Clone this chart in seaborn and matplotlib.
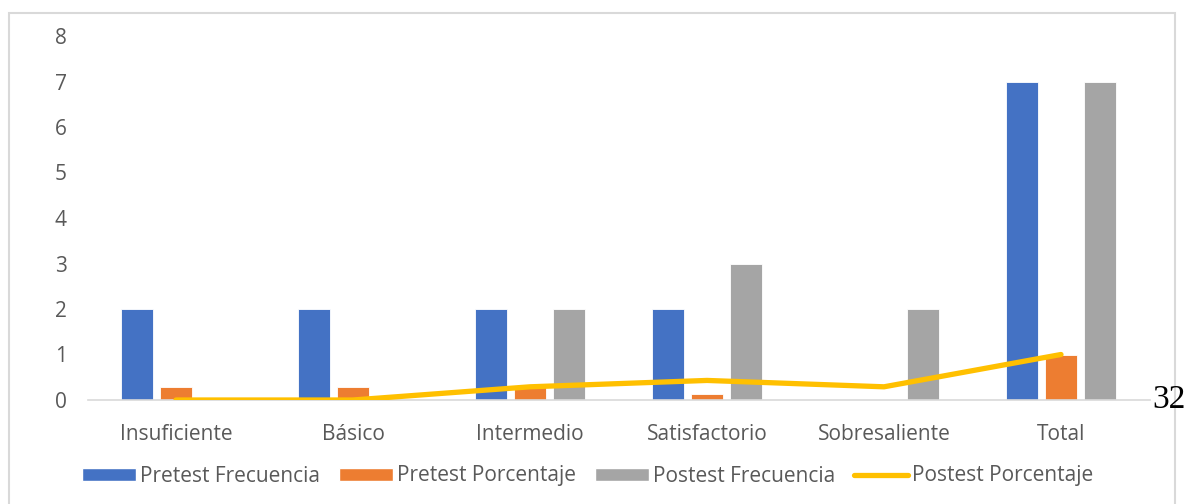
import matplotlib
matplotlib.use("Agg")
import matplotlib.pyplot as plt
import seaborn as sns
import pandas as pd
from matplotlib.patches import Patch, Rectangle
from matplotlib.lines import Line2D

categories = ["Insuficiente", "Básico", "Intermedio", "Satisfactorio", "Sobresaliente", "Total"]
pretest_frecuencia = [2, 2, 2, 2, 0, 7]
pretest_porcentaje = [0.29, 0.29, 0.29, 0.14, 0, 1.0]
postest_frecuencia = [0, 0, 2, 3, 2, 7]
postest_porcentaje = [0, 0, 0.29, 0.43, 0.29, 1.0]
series_names = ["Pretest Frecuencia", "Pretest Porcentaje", "Postest Frecuencia", "Postest Porcentaje"]
y_ticks = [0, 1, 2, 3, 4, 5, 6, 7, 8]
page_number = "32"

colors = ["#4472C4", "#ED7D31", "#A5A5A5", "#FFC000"]

sns.set_theme(style="white")
plt.rcParams["font.family"] = ["Open Sans", "DejaVu Sans"]

rows = []
for name, vals in zip(series_names[:3], [pretest_frecuencia, pretest_porcentaje, postest_frecuencia]):
    for c, v in zip(categories, vals):
        rows.append({"cat": c, "val": v, "serie": name})
df = pd.DataFrame(rows)

fig = plt.figure(figsize=(11.87, 5.04), dpi=100)
ax = fig.add_axes([87.5 / 1187, 104 / 504, 1062 / 1187, 364 / 504])

sns.barplot(data=df, x="cat", y="val", hue="serie", hue_order=series_names[:3],
            palette=colors[:3], saturation=1, width=0.66, gap=0.2, ax=ax, legend=False,
            errorbar=None, edgecolor="white", linewidth=0.6)

line_df = pd.DataFrame({"x": list(range(len(categories))), "y": postest_porcentaje})
sns.lineplot(data=line_df, x="x", y="y", color=colors[3], linewidth=3.8, ax=ax,
             legend=False, solid_capstyle="round", zorder=5)

ax.set_xlim(-0.5, 5.5)
ax.set_ylim(0, 8)
ax.set_yticks(y_ticks)
ax.set_xlabel("")
ax.set_ylabel("")
for s in ["top", "right", "left"]:
    ax.spines[s].set_visible(False)
ax.spines["bottom"].set_color("#D9D9D9")
ax.spines["bottom"].set_linewidth(1.2)
ax.tick_params(axis="both", length=0, labelsize=15, colors="#595959")
ax.tick_params(axis="y", pad=15)
ax.tick_params(axis="x", pad=17)

handles = [Patch(facecolor=colors[0]), Patch(facecolor=colors[1]), Patch(facecolor=colors[2]),
           Line2D([0], [0], color=colors[3], linewidth=3.8)]
leg = fig.legend(handles, series_names, loc="center", bbox_to_anchor=(0.495, 28 / 504), ncol=4,
                 frameon=False, fontsize=15, handlelength=2.6, handleheight=0.6,
                 handletextpad=0.2, columnspacing=0.9)
for t in leg.get_texts():
    t.set_color("#595959")

fig.patches.append(Rectangle((9 / 1187, -0.01), 1166 / 1187, (504 - 13) / 504 + 0.01,
                             transform=fig.transFigure, fill=False, edgecolor="#D9D9D9",
                             linewidth=1.5, zorder=0))

fig.text(1186 / 1187, (504 - 408) / 504, page_number, ha="right", va="baseline",
         fontsize=24, family="Liberation Serif", color="black")

fig.savefig("out.png", dpi=100, facecolor="white")
